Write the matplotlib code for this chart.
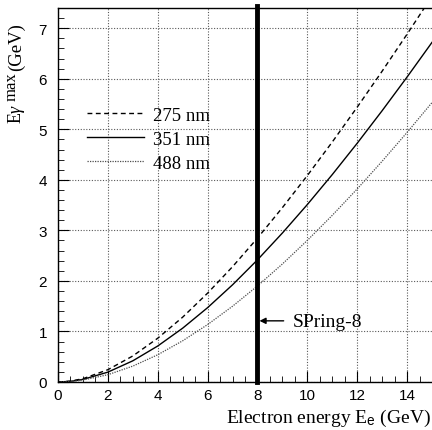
import numpy as np
import matplotlib
matplotlib.use("Agg")
from matplotlib import pyplot as plt
from matplotlib.ticker import MultipleLocator

# electron energy (GeV) and max gamma energy (GeV)
E_e = [0, 0.5, 1, 2, 3, 4, 5, 6, 7, 8, 9, 10, 11, 12, 13, 14, 15]
eg_275 = [0, 0.017, 0.065, 0.243, 0.515, 0.866, 1.283, 1.758, 2.281, 2.847,
          3.450, 4.085, 4.749, 5.438, 6.150, 6.882, 7.633]
eg_351 = [0, 0.013, 0.051, 0.195, 0.419, 0.712, 1.065, 1.471, 1.923, 2.417,
          2.948, 3.511, 4.104, 4.724, 5.368, 6.034, 6.720]
eg_488 = [0, 0.010, 0.038, 0.144, 0.314, 0.539, 0.815, 1.136, 1.499, 1.900,
          2.335, 2.802, 3.298, 3.820, 4.368, 4.938, 5.529]
spring8 = 8.0

plt.rcParams['mathtext.fontset'] = 'custom'
plt.rcParams['mathtext.rm'] = 'Liberation Serif'
plt.rcParams['mathtext.it'] = 'Liberation Serif:italic'
plt.rcParams['mathtext.sf'] = 'Liberation Sans'
serif = 'Liberation Serif'

W, H = 432, 431
fig = plt.figure(figsize=(W / 100, H / 100), dpi=100)
ax = fig.add_axes([0.1343, 0.1114, 0.8657, 0.8677])

ax.plot(E_e, eg_275, color='black', lw=1.0, ls=(0, (3.5, 2.5)), label='275 nm')
ax.plot(E_e, eg_351, color='black', lw=1.0, ls='-', label='351 nm')
ax.plot(E_e, eg_488, color='0.3', lw=0.9, ls=(0, (1, 1)), label='488 nm')

ax.axvline(spring8, color='black', lw=3.5, ymax=1.005, clip_on=False)
ax.annotate('', xy=(8.08, 1.21), xytext=(9.05, 1.21),
            arrowprops=dict(arrowstyle='-|>', color='black', lw=1.0,
                            mutation_scale=9, shrinkA=0, shrinkB=0))
ax.text(9.4, 1.19, 'SPring-8', family=serif, fontsize=14, va='center', ha='left')

ax.set_xlim(0, 15)
ax.set_ylim(0, 7.4)
ax.xaxis.set_major_locator(MultipleLocator(2))
ax.xaxis.set_minor_locator(MultipleLocator(0.5))
ax.yaxis.set_major_locator(MultipleLocator(1))
ax.yaxis.set_minor_locator(MultipleLocator(0.2))
ax.tick_params(which='both', direction='in', top=False, right=False,
               labelsize=11)
ax.tick_params(axis='y', which='major', length=8, pad=8)
ax.tick_params(axis='x', which='major', length=8, pad=4)
ax.tick_params(which='minor', length=4)
for lab in ax.get_xticklabels() + ax.get_yticklabels():
    lab.set_family('Liberation Sans')
ax.spines['right'].set_visible(False)
for s in ['left', 'bottom', 'top']:
    ax.spines[s].set_linewidth(1.0)

ax.grid(True, which='major', color='0.35', ls=(0, (1, 1.5)), lw=0.8)
ax.set_axisbelow(True)

ax.legend(loc='upper left', bbox_to_anchor=(0.058, 0.757), frameon=False,
          prop={'family': serif, 'size': 13.5}, handlelength=3.05,
          handletextpad=0.45, labelspacing=0.38, borderaxespad=0)

fig.text(0.997, 0.030, r'Electron energy E$_{\mathsf{e}}$ (GeV)', family=serif,
         fontsize=14, ha='right', va='center')

# y label built from pieces so the superscript keeps its size
ylab = [(r'E$\gamma$', 21, 124, 13), ('max', 16, 101, 12), ('(GeV)', 21, 71, 13.5)]
for s, px, py, fs in ylab:
    fig.text(px / W, 1 - py / H, s, family=serif, fontsize=fs, rotation=90,
             rotation_mode='anchor', ha='left', va='baseline')

fig.savefig('out.png', dpi=100)
